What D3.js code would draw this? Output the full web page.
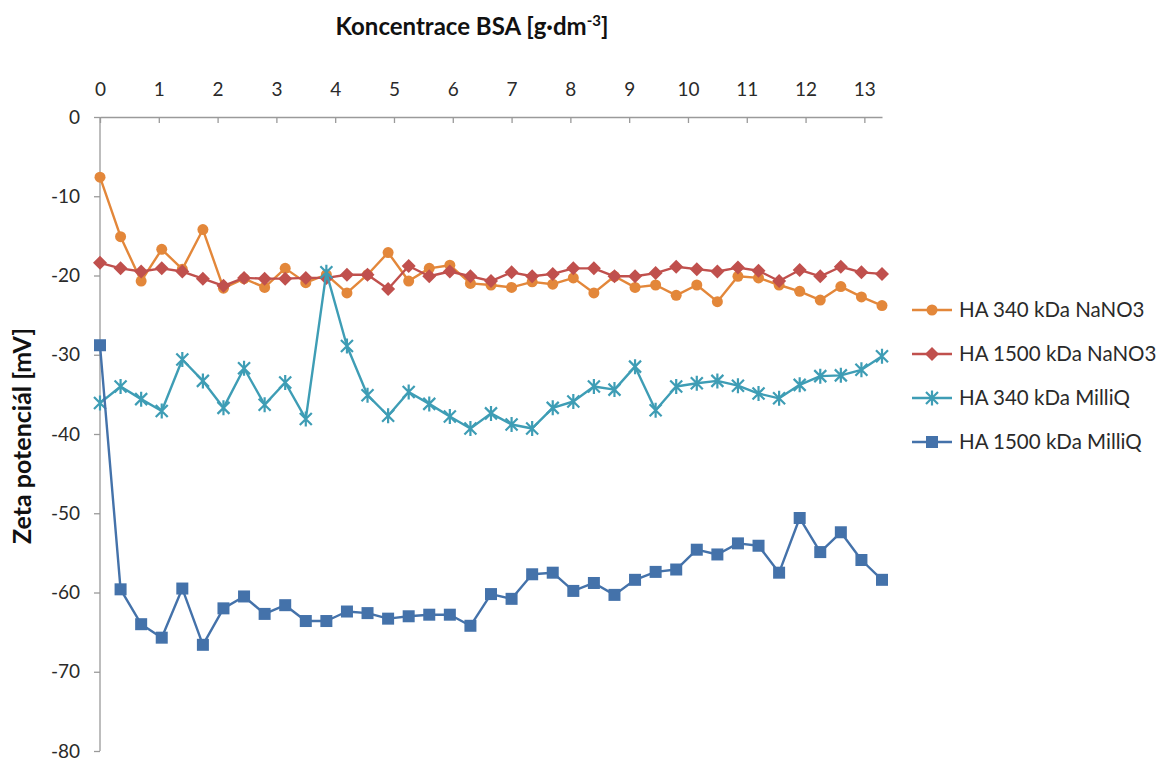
<!DOCTYPE html>
<html>
<head>
<meta charset="utf-8">
<script src="https://cdn.jsdelivr.net/npm/d3@7"></script>
<style>
  html, body { margin: 0; padding: 0; background: #fff; }
  svg { display: block; font-family: Lato, "Open Sans", sans-serif; }
</style>
</head>
<body>
<svg id="chart" width="1165" height="758"></svg>
<script>
// BSA concentration [g·dm⁻³]
const concentration = [0, 0.35, 0.7, 1.05, 1.4, 1.75, 2.1, 2.45, 2.8, 3.15, 3.5, 3.85, 4.2, 4.55, 4.9, 5.25, 5.6, 5.95, 6.3, 6.65, 7.0, 7.35, 7.7, 8.05, 8.4, 8.75, 9.1, 9.45, 9.8, 10.15, 10.5, 10.85, 11.2, 11.55, 11.9, 12.25, 12.6, 12.95, 13.3];

// Zeta potential [mV]
const ha340NaNO3 = [-7.6, -15.1, -20.7, -16.7, -19.2, -14.2, -21.6, -20.4, -21.5, -19.1, -20.9, -19.9, -22.2, -19.9, -17.1, -20.7, -19.1, -18.7, -21.0, -21.2, -21.5, -20.8, -21.1, -20.3, -22.2, -20.1, -21.5, -21.2, -22.5, -21.2, -23.3, -20.1, -20.3, -21.2, -22.0, -23.1, -21.4, -22.7, -23.8];
const ha1500NaNO3 = [-18.4, -19.1, -19.5, -19.1, -19.5, -20.4, -21.3, -20.3, -20.4, -20.4, -20.3, -20.3, -19.9, -19.9, -21.7, -18.8, -20.1, -19.5, -20.1, -20.7, -19.6, -20.1, -19.8, -19.1, -19.1, -20.1, -20.1, -19.7, -18.9, -19.2, -19.5, -19.0, -19.4, -20.7, -19.3, -20.1, -18.9, -19.6, -19.8];
const ha340MilliQ = [-36.1, -34.0, -35.6, -37.1, -30.6, -33.3, -36.7, -31.7, -36.3, -33.5, -38.1, -19.6, -28.9, -35.1, -37.7, -34.7, -36.2, -37.8, -39.3, -37.4, -38.8, -39.3, -36.7, -35.9, -34.0, -34.4, -31.5, -37.0, -34.0, -33.6, -33.3, -33.9, -34.9, -35.5, -33.8, -32.7, -32.6, -31.9, -30.2];
const ha1500MilliQ = [-28.8, -59.6, -64.0, -65.7, -59.5, -66.6, -62.0, -60.5, -62.7, -61.6, -63.6, -63.6, -62.4, -62.6, -63.3, -63.0, -62.8, -62.8, -64.2, -60.2, -60.8, -57.7, -57.5, -59.8, -58.8, -60.3, -58.4, -57.4, -57.1, -54.6, -55.2, -53.8, -54.1, -57.5, -50.6, -54.9, -52.4, -55.9, -58.4];

const seriesNames = ["HA 340 kDa NaNO3", "HA 1500 kDa NaNO3", "HA 340 kDa MilliQ", "HA 1500 kDa MilliQ"];
const seriesColors = ["#E3873A", "#C0504D", "#3E9DB5", "#4472AA"];
const seriesMarkers = ["circle", "diamond", "star", "square"];
const xTicks = [0, 1, 2, 3, 4, 5, 6, 7, 8, 9, 10, 11, 12, 13];
const yTicks = [0, -10, -20, -30, -40, -50, -60, -70, -80];

const series = [ha340NaNO3, ha1500NaNO3, ha340MilliQ, ha1500MilliQ].map((vals, k) => ({
  name: seriesNames[k], color: seriesColors[k], marker: seriesMarkers[k],
  points: vals.map((v, i) => ({ x: concentration[i], y: v }))
}));

const svg = d3.select("#chart");
const plot = { left: 100, right: 882, top: 117, bottom: 751 };

const x = d3.scaleLinear().domain([0, 13.3]).range([plot.left, plot.right]);
const y = d3.scaleLinear().domain([0, -80]).range([plot.top, plot.bottom]);

const axisColor = "#9a9a9a";
const textColor = "#2a2a2a";
const tickFont = 19;

// X axis along the zero line, labels above
const xAxis = svg.append("g")
  .attr("transform", `translate(0,${y(0)})`)
  .call(d3.axisTop(x).tickValues(xTicks).tickSize(0).tickPadding(21).tickFormat(d => String(d)));
xAxis.select(".domain").attr("stroke", axisColor).attr("stroke-width", 1.3);
xAxis.selectAll("text").attr("font-size", tickFont).attr("fill", textColor).attr("font-family", "Lato, sans-serif");
xAxis.selectAll(".tick").append("line").attr("y1", 0).attr("y2", 6).attr("stroke", axisColor).attr("stroke-width", 1.3);

// Y axis
const yAxis = svg.append("g")
  .attr("transform", `translate(${plot.left},0)`)
  .call(d3.axisLeft(y).tickValues(yTicks).tickSize(6).tickPadding(14).tickFormat(d => String(d)));
yAxis.select(".domain").attr("stroke", axisColor).attr("stroke-width", 1.3).attr("d", `M0,${plot.top}V${plot.bottom}`);
yAxis.selectAll(".tick line").attr("stroke", axisColor).attr("stroke-width", 1.3);
yAxis.selectAll("text").attr("font-size", tickFont).attr("fill", textColor).attr("font-family", "Lato, sans-serif");

// Axis titles
const xTitle = svg.append("text")
  .attr("x", 472).attr("y", 35)
  .attr("text-anchor", "middle")
  .attr("font-size", 24).attr("font-weight", "bold").attr("fill", "#111");
xTitle.append("tspan").text("Koncentrace BSA [g·dm");
xTitle.append("tspan").attr("dy", -9).attr("font-size", 15).text("-3");
xTitle.append("tspan").attr("dy", 9).text("]");

svg.append("text")
  .attr("transform", `translate(31,${(plot.top + plot.bottom) / 2 + 2}) rotate(-90)`)
  .attr("text-anchor", "middle")
  .attr("font-size", 25).attr("font-weight", "bold").attr("fill", "#111")
  .text("Zeta potenciál [mV]");

// Marker drawing
function drawMarker(g, type, color) {
  if (type === "circle") {
    g.append("circle").attr("r", 5.5).attr("fill", color);
  } else if (type === "diamond") {
    g.append("path").attr("d", "M0,-7L7,0L0,7L-7,0Z").attr("fill", color);
  } else if (type === "square") {
    g.append("rect").attr("x", -6).attr("y", -6).attr("width", 12).attr("height", 12).attr("fill", color);
  } else if (type === "star") {
    g.append("path").attr("d", "M-6,-6L6,6M-6,6L6,-6M0,-7.5V7.5")
      .attr("stroke", color).attr("stroke-width", 2.2).attr("fill", "none");
  }
}

const line = d3.line().x(d => x(d.x)).y(d => y(d.y));

series.forEach(s => {
  const g = svg.append("g");
  g.append("path").datum(s.points)
    .attr("d", line).attr("fill", "none")
    .attr("stroke", s.color).attr("stroke-width", 2.4).attr("stroke-linejoin", "round");
  g.selectAll("g.m").data(s.points).join("g")
    .attr("class", "m")
    .attr("transform", d => `translate(${x(d.x)},${y(d.y)})`)
    .each(function () { drawMarker(d3.select(this), s.marker, s.color); });
});

// Legend
const legend = svg.append("g").attr("transform", "translate(912,310)");
series.forEach((s, k) => {
  const row = legend.append("g").attr("transform", `translate(0,${k * 44})`);
  row.append("line").attr("x1", 0).attr("x2", 40).attr("stroke", s.color).attr("stroke-width", 2.4);
  const m = row.append("g").attr("transform", "translate(20,0)");
  drawMarker(m, s.marker, s.color);
  row.append("text").attr("x", 47).attr("y", 7)
    .attr("font-size", 20.5).attr("fill", textColor)
    .text(s.name);
});
</script>
</body>
</html>
